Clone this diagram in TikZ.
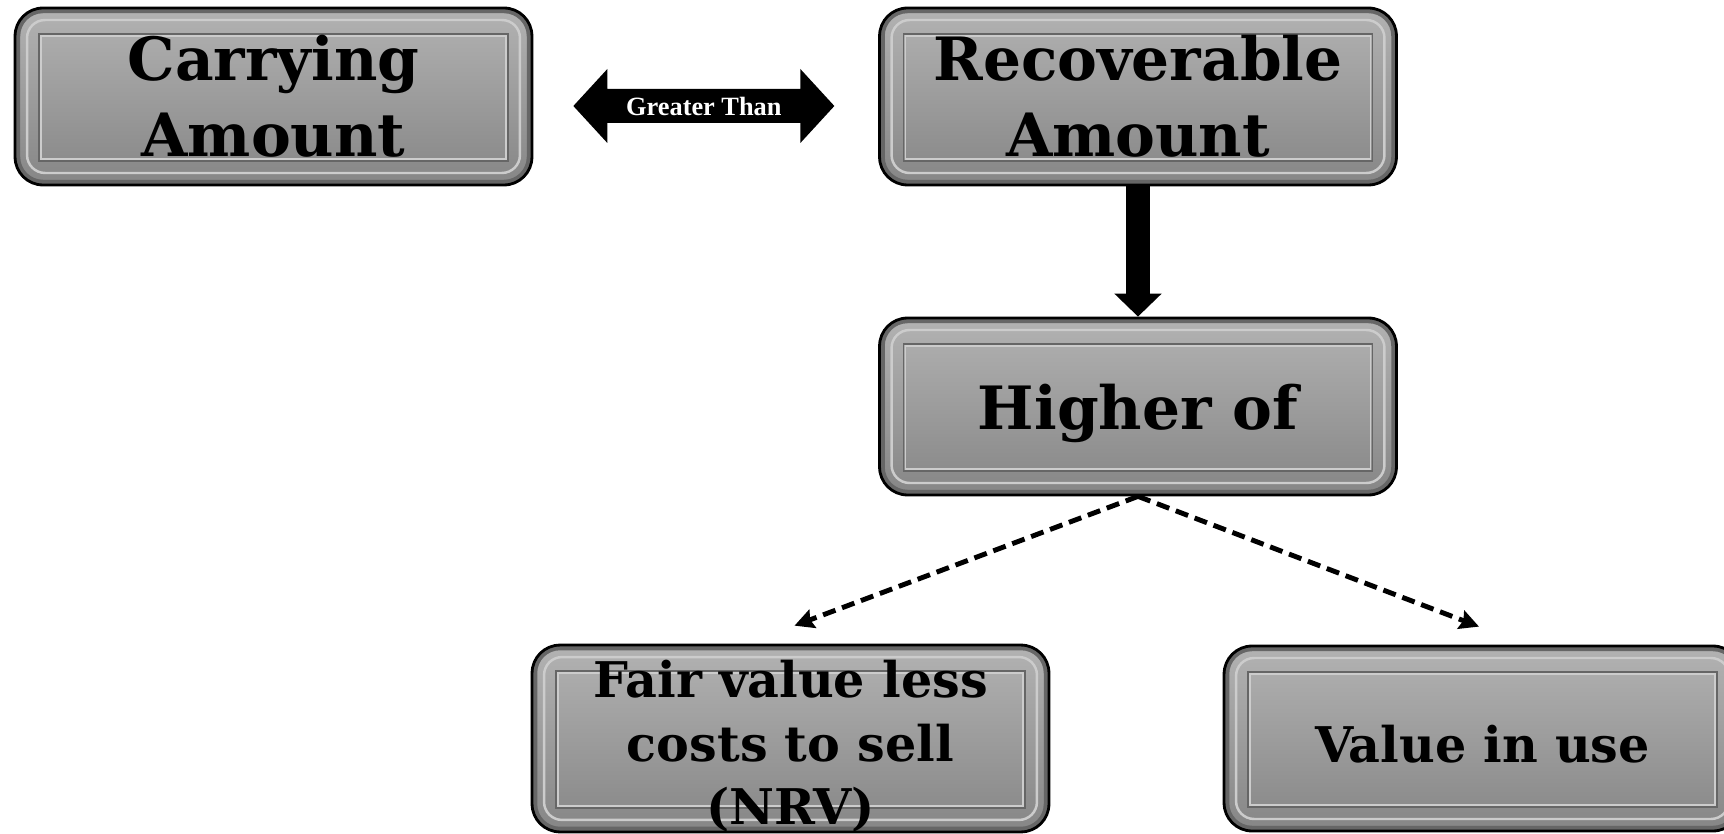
\documentclass[tikz,border=0pt]{standalone}
\usepackage{fontspec}
\setmainfont{DejaVu Serif}
\newfontfamily\gtfont{Liberation Serif}
\usetikzlibrary{arrows.meta}
\tikzset{
	boxnode/.style={draw=black, line width=1.6pt, rounded corners=0.56cm,
		top color=gray!60, bottom color=gray!95,
		minimum width=10.34cm, minimum height=3.54cm, inner sep=0pt, align=center,
		font=\bfseries\fontsize{34}{43}\selectfont,
		path picture={
			\draw[gray!80!black, line width=2.5pt, rounded corners=0.5cm]
				([shift={(0.06cm,-0.06cm)}]path picture bounding box.north west) rectangle
				([shift={(-0.06cm,0.06cm)}]path picture bounding box.south east);
			\draw[gray!40, line width=1.4pt, rounded corners=0.36cm]
				([shift={(0.24cm,-0.24cm)}]path picture bounding box.north west) rectangle
				([shift={(-0.24cm,0.24cm)}]path picture bounding box.south east);
			\draw[sharp corners, gray!80!black, line width=0.8pt]
				([shift={(0.48cm,-0.52cm)}]path picture bounding box.north west) rectangle
				([shift={(-0.48cm,0.48cm)}]path picture bounding box.south east);
			\draw[sharp corners, gray!40, line width=0.8pt]
				([shift={(0.52cm,-0.56cm)}]path picture bounding box.north west) rectangle
				([shift={(-0.52cm,0.52cm)}]path picture bounding box.south east);
		}},
	lowbox/.style={boxnode, minimum height=3.7cm,
		font=\bfseries\fontsize{28}{36}\selectfont},
	dasharrow/.style={line width=2.8pt, dash pattern=on 7.5pt off 4pt,
		-{Stealth[length=11pt, width=11pt, inset=1.5pt]}},
}
\begin{document}
\begin{tikzpicture}[x=0.02cm, y=-0.02cm]
	% Page frame
	\useasboundingbox (0,0) rectangle (1724,834);
	\clip (0,0) rectangle (1724,834);
	% Boxes
	\node[boxnode] (carry) at (273.5,96.5) {Carrying\\Amount};
	\node[boxnode] (recov) at (1138,96.5) {Recoverable\\Amount};
	\node[boxnode, text height=34pt, text depth=8pt] (higher) at (1138,406.5) {Higher of};
	\node[lowbox] (fair) at (790.5,738.5) {\rule{0pt}{30pt}Fair value less\\costs to sell\\(NRV)};
	\node[lowbox, text height=28pt] (use) at (1482.5,738.5) {Value in use};
	% Double arrow between the top boxes
	\coordinate (gtl) at ([shift={(40,9.5)}]carry.east);
	\fill (gtl) -- ++(34,-37) -- ++(0,20) -- ++(193,0) -- ++(0,-20) -- ++(34,37)
		-- ++(-34,37) -- ++(0,-20) -- ++(-193,0) -- ++(0,20) -- cycle;
	\node[text=white, font=\gtfont\bfseries\fontsize{15}{18}\selectfont] (gt) at ([shift={(130.5,0)}]gtl) {Greater Than};
	% Thick arrow down
	\draw[line width=0.48cm, -{Triangle[width=0.92cm, length=0.46cm]}] (recov.south) -- (higher.north);
	% Dashed branches
	\draw[dasharrow] (higher.south) -- ([shift={(4,-18)}]fair.north);
	\draw[dasharrow] (higher.south) -- ([shift={(-3.5,-18)}]use.north);
\end{tikzpicture}
\end{document}
